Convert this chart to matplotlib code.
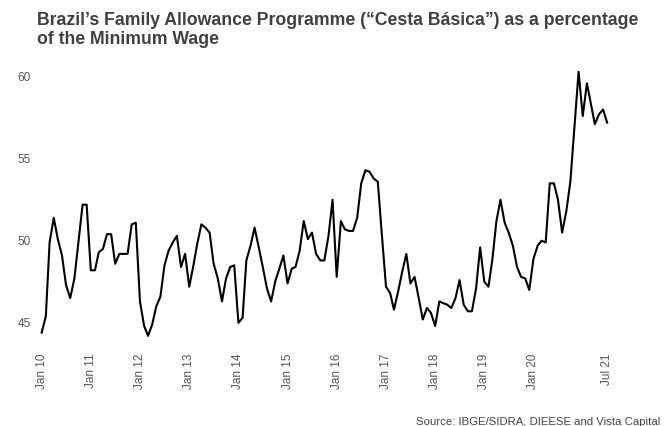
import matplotlib
matplotlib.use("Agg")
import matplotlib.pyplot as plt
import pandas as pd

plt.rcParams['font.family'] = ['Liberation Sans', 'DejaVu Sans']

start_month = "2010-01-01"
end_month = "2021-07-01"

values = [
    # 2010
    44.3, 45.3, 49.8, 51.3, 50.0, 49.0, 47.2, 46.4, 47.6, 49.8, 52.1, 52.1,
    # 2011
    48.1, 48.1, 49.2, 49.4, 50.3, 50.3, 48.5, 49.1, 49.1, 49.1, 50.9, 51.0,
    # 2012
    46.2, 44.7, 44.1, 44.8, 45.9, 46.5, 48.4, 49.3, 49.8, 50.2, 48.3, 49.1,
    # 2013
    47.1, 48.4, 49.7, 50.9, 50.7, 50.4, 48.5, 47.6, 46.2, 47.6, 48.3, 48.4,
    # 2014
    44.9, 45.2, 48.7, 49.6, 50.7, 49.5, 48.3, 47.0, 46.2, 47.4, 48.2, 49.0,
    # 2015
    47.3, 48.2, 48.3, 49.3, 51.1, 50.0, 50.4, 49.1, 48.7, 48.7, 50.2, 52.4,
    # 2016
    47.7, 51.1, 50.6, 50.5, 50.5, 51.3, 53.4, 54.2, 54.1, 53.7, 53.5, 50.3,
    # 2017
    47.1, 46.7, 45.7, 46.8, 48.0, 49.1, 47.3, 47.7, 46.4, 45.1, 45.8, 45.5,
    # 2018
    44.7, 46.2, 46.1, 46.0, 45.8, 46.4, 47.5, 46.0, 45.6, 45.6, 47.0, 49.5,
    # 2019
    47.4, 47.1, 48.7, 51.1, 52.4, 51.0, 50.4, 49.6, 48.3, 47.7, 47.6, 46.9,
    # 2020
    48.8, 49.6, 49.9, 49.8, 53.4, 53.4, 52.4, 50.4, 51.7, 53.5, 56.9, 60.2,
    # 2021
    57.5, 59.5, 58.3, 57.0, 57.6, 57.9, 57.1,
]

tick_dates = ["2010-01-01", "2011-01-01", "2012-01-01", "2013-01-01", "2014-01-01",
              "2015-01-01", "2016-01-01", "2017-01-01", "2018-01-01", "2019-01-01",
              "2020-01-01", "2021-07-01"]
tick_labels = ["Jan 10", "Jan 11", "Jan 12", "Jan 13", "Jan 14", "Jan 15",
               "Jan 16", "Jan 17", "Jan 18", "Jan 19", "Jan 20", "Jul 21"]
y_ticks = [45, 50, 55, 60]

title = "Brazil\u2019s Family Allowance Programme (\u201cCesta B\u00e1sica\u201d) as a percentage\nof the Minimum Wage"
source = "Source: IBGE/SIDRA, DIEESE and Vista Capital"

dates = pd.date_range(start_month, end_month, freq="MS")

fig = plt.figure(figsize=(6.65, 4.27), dpi=100)
fig.patch.set_facecolor("white")
ax = fig.add_axes([0.059, 0.188, 0.857, 0.653])
ax.plot(dates, values, color="black", linewidth=1.5)

ax.set_ylim(43.5, 60.5)
ax.set_xlim(pd.Timestamp("2009-12-14"), pd.Timestamp("2021-07-16"))
ax.set_yticks(y_ticks)
ax.set_yticklabels([str(v) for v in y_ticks])
ax.set_xticks(pd.to_datetime(tick_dates))
ax.set_xticklabels(tick_labels, rotation=90)
for s in ax.spines.values():
    s.set_visible(False)
ax.tick_params(axis="both", length=0, colors="#555555", labelsize=8.5)
ax.tick_params(axis="x", pad=5)
ax.tick_params(axis="y", pad=6)
ax.grid(False)

fig.text(37 / 665, 1 - 12 / 427, title, ha="left", va="top", fontsize=12.7,
         fontweight="bold", color="#404040", linespacing=1.13)
fig.text(660 / 665, 1 - 422 / 427, source, ha="right", va="center",
         fontsize=8.2, color="#444444")

fig.savefig("out.png", dpi=100, facecolor="white")
